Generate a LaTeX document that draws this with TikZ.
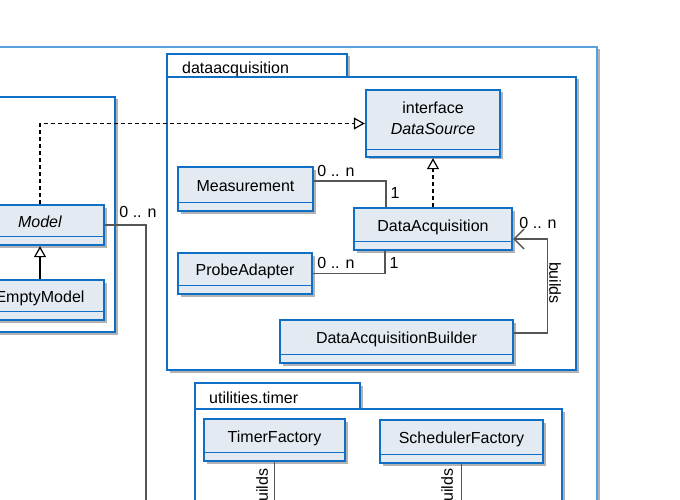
\documentclass[tikz,border=0pt]{standalone}
\usepackage{fontspec}
\setmainfont{Liberation Sans}
\usetikzlibrary{arrows.meta,shadows,calc}
\definecolor{umlblue}{HTML}{0F6FC6}
\definecolor{umlfill}{HTML}{E3EAF2}
\definecolor{frameblue}{HTML}{5AA0DC}
\definecolor{conn}{HTML}{555555}
\tikzset{
  shad/.style={drop shadow={shadow xshift=2.5pt,shadow yshift=-2.5pt,opacity=0.3,fill=black}},
  clsbox/.style={rectangle,draw=umlblue,fill=umlfill,line width=2.4pt,inner sep=0pt,shad},
  pkgbox/.style={rectangle,draw=umlblue,fill=white,line width=2.4pt,inner sep=0pt,shad},
  framebox/.style={rectangle,draw=frameblue,fill=white,line width=1.5pt,inner sep=0pt,shad},
  comp/.style={draw=umlblue,line width=1.3pt},
  txt/.style={font=\fontsize{16}{19}\selectfont,inner sep=0pt,anchor=center,text height=11.5pt,text depth=0pt},
  assoc/.style={draw=conn,line width=1.4pt},
  realize/.style={draw=black,line width=1.2pt,dash pattern=on 4pt off 3pt,-{Triangle[open,length=11pt,width=12pt,fill=white]}},
  inherit/.style={draw=black,line width=1.2pt,-{Triangle[open,length=11pt,width=12pt,fill=white]}},
  navig/.style={assoc,-{Straight Barb[length=10pt,width=20pt]}},
}
\newcommand\umlcls[6]{%
  \node[clsbox,minimum width={(#4)-(#2)},minimum height={(#5)-(#3)}] (#1) at ({((#2)+(#4))/2},{((#3)+(#5))/2}) {};
  \draw[comp] ($(#1.south west)+(0,-10)$) -- ($(#1.south east)+(0,-10)$);
  \node[txt] (#1-t) at ({((#2)+(#4))/2},{((#3)+(#5)-10)/2+1.5}) {#6};
}
\newcommand\umlbox[6]{% style, name, l, t, r, b
  \node[#1,minimum width={(#5)-(#3)},minimum height={(#6)-(#4)}] (#2) at ({((#3)+(#5))/2},{((#4)+(#6))/2}) {};
}
\begin{document}
\begin{tikzpicture}[x=1pt,y=-1pt]
\useasboundingbox (0,0) rectangle (680,500);
\clip (0,0) rectangle (680,500);
% outer frame
\umlbox{framebox}{outer}{-60}{47}{597}{560}
% left package
\umlbox{pkgbox}{leftpkg}{-60}{97}{115}{332}
% dataacquisition package
\umlbox{pkgbox}{datab}{167}{54}{347}{77}
\umlbox{pkgbox}{dapkg}{167}{77}{576}{370}
\node[txt,anchor=west] (databt) at (182,67.5) {dataacquisition};
% utilities.timer package
\umlbox{pkgbox}{uttab}{195}{383}{360}{409}
\umlbox{pkgbox}{utpkg}{195}{409}{562}{560}
\node[txt,anchor=west] (uttabt) at (209,397.5) {utilities.timer};
% classes
\umlcls{model}{-24}{205}{104}{245}{\textit{Model}}
\umlcls{empty}{-24}{280}{104}{320}{EmptyModel}
\umlcls{meas}{178}{167}{313}{211}{Measurement}
\umlcls{da}{354}{208}{512}{250}{DataAcquisition}
\umlcls{probe}{178}{253}{312}{294}{ProbeAdapter}
\umlcls{bld}{280}{320}{513}{363}{DataAcquisitionBuilder}
\umlcls{tf}{204}{419}{345}{461}{TimerFactory}
\umlcls{sf}{380}{420}{543}{463}{SchedulerFactory}
% DataSource interface
\umlbox{clsbox}{ds}{366}{90}{500}{157}
\draw[comp] ($(ds.south west)+(0,-9)$) -- ($(ds.south east)+(0,-9)$);
\node[txt] (ds-t1) at (433,107.5) {interface};
\node[txt] (ds-t2) at (433,129) {\textit{DataSource}};
% connectors
\coordinate (mend) at (146,510);
\coordinate (tfend) at (274.5,510);
\coordinate (sfend) at (461.5,510);
\draw[realize] (model.north) |- (ds.west);
\draw[inherit] (empty.north) -- (model.south);
\draw[assoc] (model.east) -| (mend);
\node[txt] (l1) at (138,212) {0 .. n};
\draw[assoc] ([yshift=8pt]meas.east) -| ([xshift=-47pt]da.north);
\node[txt] (l2) at (336,171) {0 .. n};
\node[txt] (l3) at (395,193) {1};
\draw[assoc] (probe.east) -| ([xshift=-48pt]da.south);
\node[txt] (l4) at (336,263) {0 .. n};
\node[txt] (l5) at (394,263) {1};
\draw[realize] (da.north) -- (ds.south);
\draw[navig] ([yshift=8.5pt]bld.east) -- ++(33,0) |- ([yshift=-10pt]da.east);
\node[txt] (l6) at (538,223) {0 .. n};
\node[txt,rotate=-90] (l7) at (555,283) {builds};
\draw[assoc] (tf.south) -- (tfend);
\node[txt,rotate=90] (l8) at (262,489.5) {builds};
\draw[assoc] (sf.south) -- (sfend);
\node[txt,rotate=90] (l9) at (447,489.5) {builds};
\end{tikzpicture}
\end{document}
